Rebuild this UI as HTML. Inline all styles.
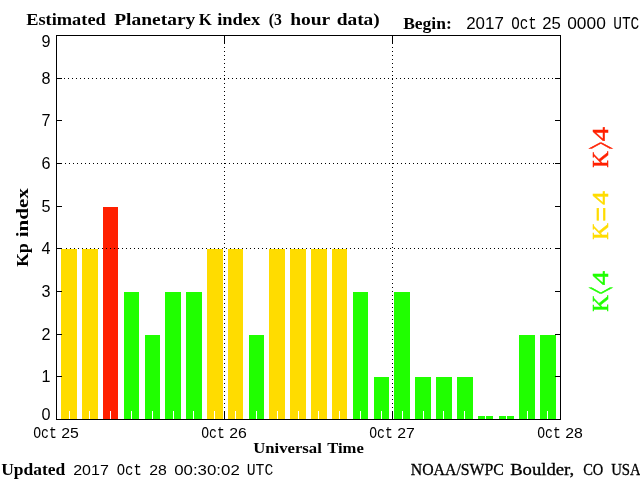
<!DOCTYPE html>
<html><head><meta charset="utf-8"><title>Estimated Planetary K index</title>
<style>html,body{margin:0;padding:0;background:#fff;overflow:hidden}svg{display:block}.s{font-family:"Liberation Sans",sans-serif;font-size:15.5px;fill:#000}.m{font-family:"Liberation Mono",monospace;font-size:17px;fill:#000}.s6{font-family:"Liberation Sans",sans-serif;font-size:16px;fill:#000}.m6{font-family:"Liberation Mono",monospace;font-size:18px;fill:#000}.b{font-family:"Liberation Serif",serif;font-weight:bold;font-size:16px;fill:#000}.r{font-family:"Liberation Serif",serif;font-size:16px;fill:#000;stroke:#000;stroke-width:0.3px}.l{font-family:"Liberation Serif",serif;font-size:24px}</style></head><body>
<svg width="640" height="480" viewBox="0 0 640 480">
<rect x="0" y="0" width="640" height="480" fill="#fff"/>
<g shape-rendering="crispEdges">
<rect x="61" y="249" width="16" height="170" fill="#FFDC00"/>
<rect x="82" y="249" width="16" height="170" fill="#FFDC00"/>
<rect x="103" y="207" width="15" height="212" fill="#FF2000"/>
<rect x="124" y="292" width="15" height="127" fill="#20FF00"/>
<rect x="145" y="335" width="15" height="84" fill="#20FF00"/>
<rect x="165" y="292" width="16" height="127" fill="#20FF00"/>
<rect x="186" y="292" width="16" height="127" fill="#20FF00"/>
<rect x="207" y="249" width="16" height="170" fill="#FFDC00"/>
<rect x="228" y="249" width="15" height="170" fill="#FFDC00"/>
<rect x="249" y="335" width="15" height="84" fill="#20FF00"/>
<rect x="269" y="249" width="16" height="170" fill="#FFDC00"/>
<rect x="290" y="249" width="16" height="170" fill="#FFDC00"/>
<rect x="311" y="249" width="16" height="170" fill="#FFDC00"/>
<rect x="332" y="249" width="15" height="170" fill="#FFDC00"/>
<rect x="353" y="292" width="15" height="127" fill="#20FF00"/>
<rect x="374" y="377" width="15" height="42" fill="#20FF00"/>
<rect x="394" y="292" width="16" height="127" fill="#20FF00"/>
<rect x="415" y="377" width="16" height="42" fill="#20FF00"/>
<rect x="436" y="377" width="16" height="42" fill="#20FF00"/>
<rect x="457" y="377" width="16" height="42" fill="#20FF00"/>
<rect x="478" y="416" width="15" height="3" fill="#20FF00"/>
<rect x="499" y="416" width="15" height="3" fill="#20FF00"/>
<rect x="519" y="335" width="16" height="84" fill="#20FF00"/>
<rect x="540" y="335" width="16" height="84" fill="#20FF00"/>
<rect x="69" y="411" width="1" height="8" fill="#fff"/>
<rect x="89" y="411" width="1" height="8" fill="#fff"/>
<rect x="110" y="411" width="1" height="8" fill="#fff"/>
<rect x="131" y="411" width="1" height="8" fill="#fff"/>
<rect x="152" y="411" width="1" height="8" fill="#fff"/>
<rect x="173" y="411" width="1" height="8" fill="#fff"/>
<rect x="193" y="411" width="1" height="8" fill="#fff"/>
<rect x="214" y="411" width="1" height="8" fill="#fff"/>
<rect x="235" y="411" width="1" height="8" fill="#fff"/>
<rect x="256" y="411" width="1" height="8" fill="#fff"/>
<rect x="277" y="411" width="1" height="8" fill="#fff"/>
<rect x="298" y="411" width="1" height="8" fill="#fff"/>
<rect x="318" y="411" width="1" height="8" fill="#fff"/>
<rect x="339" y="411" width="1" height="8" fill="#fff"/>
<rect x="360" y="411" width="1" height="8" fill="#fff"/>
<rect x="381" y="411" width="1" height="8" fill="#fff"/>
<rect x="402" y="411" width="1" height="8" fill="#fff"/>
<rect x="423" y="411" width="1" height="8" fill="#fff"/>
<rect x="443" y="411" width="1" height="8" fill="#fff"/>
<rect x="464" y="411" width="1" height="8" fill="#fff"/>
<rect x="485" y="411" width="1" height="8" fill="#fff"/>
<rect x="506" y="411" width="1" height="8" fill="#fff"/>
<rect x="527" y="411" width="1" height="8" fill="#fff"/>
<rect x="547" y="411" width="1" height="8" fill="#fff"/>
<rect x="56" y="35" width="505" height="1" fill="#000"/>
<rect x="56" y="419" width="505" height="1" fill="#000"/>
<rect x="56" y="35" width="1" height="385" fill="#000"/>
<rect x="560" y="35" width="1" height="385" fill="#000"/>
<rect x="57" y="376" width="5" height="1" fill="#000"/>
<rect x="555" y="376" width="5" height="1" fill="#000"/>
<rect x="57" y="334" width="5" height="1" fill="#000"/>
<rect x="555" y="334" width="5" height="1" fill="#000"/>
<rect x="57" y="291" width="5" height="1" fill="#000"/>
<rect x="555" y="291" width="5" height="1" fill="#000"/>
<rect x="57" y="248" width="5" height="1" fill="#000"/>
<rect x="555" y="248" width="5" height="1" fill="#000"/>
<rect x="57" y="206" width="5" height="1" fill="#000"/>
<rect x="555" y="206" width="5" height="1" fill="#000"/>
<rect x="57" y="163" width="5" height="1" fill="#000"/>
<rect x="555" y="163" width="5" height="1" fill="#000"/>
<rect x="57" y="120" width="5" height="1" fill="#000"/>
<rect x="555" y="120" width="5" height="1" fill="#000"/>
<rect x="57" y="78" width="5" height="1" fill="#000"/>
<rect x="555" y="78" width="5" height="1" fill="#000"/>
<line x1="66" y1="248.5" x2="554" y2="248.5" stroke="#000" stroke-width="1" stroke-dasharray="1 3"/>
<line x1="65" y1="163.5" x2="554" y2="163.5" stroke="#000" stroke-width="1" stroke-dasharray="1 3"/>
<line x1="64" y1="78.5" x2="554" y2="78.5" stroke="#000" stroke-width="1" stroke-dasharray="1 3"/>
<rect x="224" y="36" width="1" height="8" fill="#000"/>
<rect x="224" y="411" width="1" height="8" fill="#000"/>
<line x1="224.5" y1="47" x2="224.5" y2="410" stroke="#000" stroke-width="1" stroke-dasharray="1 3"/>
<rect x="392" y="36" width="1" height="8" fill="#000"/>
<rect x="392" y="411" width="1" height="8" fill="#000"/>
<line x1="392.5" y1="47" x2="392.5" y2="410" stroke="#000" stroke-width="1" stroke-dasharray="1 3"/>
</g>
<text class="b" x="26.2" y="24.5" textLength="79.6" lengthAdjust="spacingAndGlyphs">Estimated</text>
<text class="b" x="114.2" y="24.5" textLength="81.1" lengthAdjust="spacingAndGlyphs">Planetary</text>
<text class="b" x="198.7" y="24.5" textLength="13.1" lengthAdjust="spacingAndGlyphs">K</text>
<text class="b" x="217.2" y="24.5" textLength="43.1" lengthAdjust="spacingAndGlyphs">index</text>
<text class="b" x="268.7" y="24.5" textLength="13.1" lengthAdjust="spacingAndGlyphs">(3</text>
<text class="b" x="290.2" y="24.5" textLength="40.1" lengthAdjust="spacingAndGlyphs">hour</text>
<text class="b" x="336.7" y="24.5" textLength="43.1" lengthAdjust="spacingAndGlyphs">data)</text>
<text class="b" x="403.2" y="28.5" textLength="48.6" lengthAdjust="spacingAndGlyphs">Begin:</text>
<text class="s6" x="466.2" y="29" textLength="37.6" lengthAdjust="spacingAndGlyphs">2017</text>
<text class="m6" x="511.2" y="29" textLength="25.6" lengthAdjust="spacingAndGlyphs">Oct</text>
<text class="s6" x="542.2" y="29" textLength="18.6" lengthAdjust="spacingAndGlyphs">25</text>
<text class="s6" x="567.2" y="29" textLength="38.6" lengthAdjust="spacingAndGlyphs">0000</text>
<text class="m6" x="613.2" y="29" textLength="26.1" lengthAdjust="spacingAndGlyphs">UTC</text>
<text class="s6" x="41.5" y="419.5" textLength="9.0" lengthAdjust="spacingAndGlyphs">0</text>
<text class="s6" x="41.5" y="382" textLength="9.0" lengthAdjust="spacingAndGlyphs">1</text>
<text class="s6" x="41.5" y="340" textLength="9.0" lengthAdjust="spacingAndGlyphs">2</text>
<text class="s6" x="41.5" y="297" textLength="9.0" lengthAdjust="spacingAndGlyphs">3</text>
<text class="s6" x="41.5" y="254" textLength="9.0" lengthAdjust="spacingAndGlyphs">4</text>
<text class="s6" x="41.5" y="212" textLength="9.0" lengthAdjust="spacingAndGlyphs">5</text>
<text class="s6" x="41.5" y="169" textLength="9.0" lengthAdjust="spacingAndGlyphs">6</text>
<text class="s6" x="41.5" y="126" textLength="9.0" lengthAdjust="spacingAndGlyphs">7</text>
<text class="s6" x="41.5" y="84" textLength="9.0" lengthAdjust="spacingAndGlyphs">8</text>
<text class="s6" x="41.5" y="46.5" textLength="9.0" lengthAdjust="spacingAndGlyphs">9</text>
<text class="m" x="33.2" y="438" textLength="23.6" lengthAdjust="spacingAndGlyphs">Oct</text>
<text class="s" x="61.2" y="438" textLength="17.6" lengthAdjust="spacingAndGlyphs">25</text>
<text class="m" x="201.2" y="438" textLength="23.6" lengthAdjust="spacingAndGlyphs">Oct</text>
<text class="s" x="229.2" y="438" textLength="17.6" lengthAdjust="spacingAndGlyphs">26</text>
<text class="m" x="369.2" y="438" textLength="23.6" lengthAdjust="spacingAndGlyphs">Oct</text>
<text class="s" x="397.2" y="438" textLength="17.6" lengthAdjust="spacingAndGlyphs">27</text>
<text class="m" x="537.2" y="438" textLength="23.6" lengthAdjust="spacingAndGlyphs">Oct</text>
<text class="s" x="565.2" y="438" textLength="17.6" lengthAdjust="spacingAndGlyphs">28</text>
<text class="b" x="253.2" y="452.7" textLength="68.6" lengthAdjust="spacingAndGlyphs" style="font-size:15px">Universal</text>
<text class="b" x="327.2" y="452.7" textLength="36.6" lengthAdjust="spacingAndGlyphs" style="font-size:15px">Time</text>
<text class="b" x="1.2" y="475" textLength="64.1" lengthAdjust="spacingAndGlyphs">Updated</text>
<text class="s" x="73.2" y="475" textLength="35.6" lengthAdjust="spacingAndGlyphs">2017</text>
<text class="m" x="116.7" y="475" textLength="25.1" lengthAdjust="spacingAndGlyphs">Oct</text>
<text class="s" x="149.2" y="475" textLength="17.6" lengthAdjust="spacingAndGlyphs">28</text>
<text class="s" x="174.2" y="475" textLength="65.6" lengthAdjust="spacingAndGlyphs">00:30:02</text>
<text class="m" x="246.7" y="475" textLength="26.6" lengthAdjust="spacingAndGlyphs">UTC</text>
<text class="r" x="410.8" y="475" textLength="93.0" lengthAdjust="spacingAndGlyphs">NOAA/SWPC</text>
<text class="r" x="510.2" y="475" textLength="64.0" lengthAdjust="spacingAndGlyphs">Boulder,</text>
<text class="r" x="583.2" y="475" textLength="20.1" lengthAdjust="spacingAndGlyphs">CO</text>
<text class="r" x="611.2" y="475" textLength="29.6" lengthAdjust="spacingAndGlyphs">USA</text>
<g transform="translate(27.6,266) rotate(-90)">
<text class="b" x="-0.8" y="0" textLength="23.6" lengthAdjust="spacingAndGlyphs">Kp</text>
<text class="b" x="28.7" y="0" textLength="49.1" lengthAdjust="spacingAndGlyphs">index</text>
</g>
<g transform="translate(608,167) rotate(-90)" fill="#FF2000" stroke="#FF2000" stroke-width="0.5">
<text class="l" x="-0.8" y="0" textLength="16.6" lengthAdjust="spacingAndGlyphs">K</text>
<text class="l" transform="translate(17.7,9.3) scale(0.54,2.05)">&gt;</text>
<text class="l" x="25.7" y="0" textLength="14.1" lengthAdjust="spacingAndGlyphs">4</text>
</g>
<g transform="translate(608,239) rotate(-90)" fill="#FFDC00" stroke="#FFDC00" stroke-width="0.5">
<text class="l" x="-0.8" y="0" textLength="16.6" lengthAdjust="spacingAndGlyphs">K</text>
<text class="l" transform="translate(17.5,3.8) scale(1.08,1.29)">=</text>
<text class="l" x="34.2" y="0" textLength="13.6" lengthAdjust="spacingAndGlyphs">4</text>
</g>
<g transform="translate(608,311) rotate(-90)" fill="#20FF00" stroke="#20FF00" stroke-width="0.5">
<text class="l" x="-0.8" y="0" textLength="16.6" lengthAdjust="spacingAndGlyphs">K</text>
<text class="l" transform="translate(16.7,9.3) scale(0.54,2.05)">&lt;</text>
<text class="l" x="25.7" y="0" textLength="14.1" lengthAdjust="spacingAndGlyphs">4</text>
</g>
</svg></body></html>
